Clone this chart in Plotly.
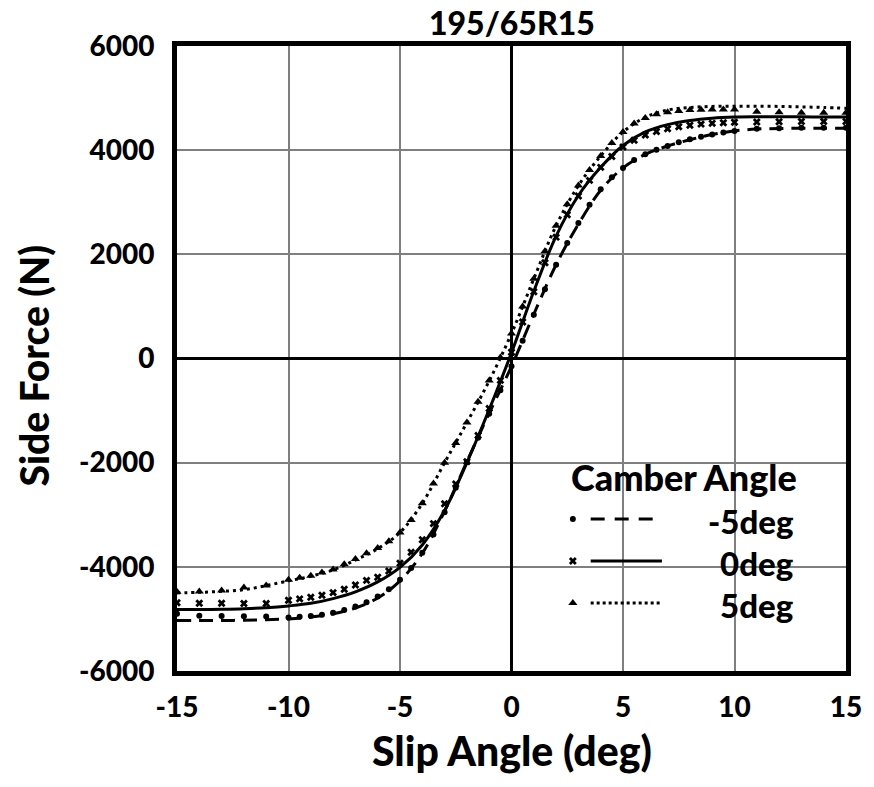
import plotly.graph_objects as go

# ---------------- data ----------------
slip_fit = [-15, -14, -13, -12, -11, -10, -9, -8, -7, -6, -5, -4, -3, -2, -1, 0,
            1, 2, 3, 4, 5, 6, 7, 8, 9, 10, 11, 12, 13, 14, 15]
fit_m5 = [-5030, -5030, -5030, -5025, -5015, -5000, -4965, -4900, -4790, -4600, -4270,
          -3740, -2930, -1980, -1050, -150, 850, 1800, 2580, 3230, 3660, 3920, 4080,
          4200, 4300, 4370, 4405, 4415, 4420, 4420, 4420]
fit_0 = [-4820, -4820, -4815, -4805, -4785, -4750, -4700, -4610, -4480, -4290, -4010,
         -3580, -2920, -2000, -980, 110, 1290, 2350, 3130, 3670, 4090, 4350, 4490,
         4570, 4615, 4635, 4640, 4640, 4640, 4635, 4635]
fit_p5 = [-4500, -4490, -4470, -4440, -4360, -4270, -4180, -4060, -3870, -3650, -3340,
          -2780, -2000, -1230, -430, 480, 1530, 2550, 3320, 3890, 4350, 4630, 4770,
          4820, 4840, 4845, 4845, 4840, 4830, 4820, 4805]

slip_meas = [-15, -14, -13, -12, -11,
             -10, -9.5, -9, -8.5, -8, -7.5, -7, -6.5, -6, -5.5, -5, -4.5, -4, -3.5, -3,
             -2.5, -2, -1.5, -1, -0.5, 0, 0.5, 1, 1.5, 2, 2.5, 3, 3.5, 4, 4.5, 5,
             5.5, 6, 6.5, 7, 7.5, 8, 8.5, 9, 9.5, 10,
             11, 12, 13, 14, 15]
meas_m5 = [-4900, -4940, -4945, -4950, -4955,
           -4975, -4960, -4945, -4920, -4880, -4830, -4760, -4680, -4570, -4430, -4250,
           -4020, -3730, -3380, -2950, -2480, -1990, -1520, -1060, -610, -150, 340, 840,
           1330, 1800, 2220, 2600, 2950, 3250, 3480, 3660, 3810, 3920, 4010, 4080, 4150,
           4210, 4260, 4300, 4340, 4370,
           4410, 4420, 4430, 4430, 4430]
meas_0 = [-4690, -4700, -4700, -4705, -4705,
          -4640, -4615, -4585, -4545, -4495, -4430, -4350, -4260, -4200, -4080, -3930,
          -3720, -3480, -3170, -2790, -2410, -1980, -1480, -960, -420, 120, 700, 1280,
          1840, 2330, 2760, 3120, 3420, 3670, 3880, 4060, 4190, 4290, 4360, 4410, 4450,
          4480, 4500, 4515, 4525, 4535,
          4540, 4545, 4550, 4550, 4550]
meas_p5 = [-4480, -4475, -4455, -4395, -4360,
           -4250, -4210, -4170, -4110, -4050, -3950, -3850, -3740, -3640, -3510, -3340,
           -3100, -2780, -2400, -2000, -1620, -1230, -830, -420, 20, 480, 1000, 1530,
           2060, 2550, 2960, 3320, 3620, 3890, 4140, 4350, 4510, 4620, 4690, 4730, 4750,
           4770, 4775, 4780, 4780, 4780,
           4740, 4730, 4720, 4720, 4720]

x_tickvals = [-15, -10, -5, 0, 5, 10, 15]
x_ticktext = ["-15", "-10", "-5", "0", "5", "10", "15"]
y_tickvals = [-6000, -4000, -2000, 0, 2000, 4000, 6000]
y_ticktext = ["-6000", "-4000", "-2000", "0", "2000", "4000", "6000"]

series_names = ["-5deg", "0deg", "5deg"]
legend_title = "Camber Angle"
chart_title = "195/65R15"
x_title = "Slip Angle (deg)"
y_title = "Side Force (N)"

# ---------------- layout geometry (pixels) ----------------
W, H = 874, 787
L, R, T, B = 177, 853, 46, 671
FONT = "Lato"
WEIGHT = 900


def px(x):
    return (x - L) / (R - L)


def py(y):
    return (B - y) / (B - T)


def f(size):
    return dict(family=FONT, size=size, color="black", weight=WEIGHT)


line_styles = [dict(dash="14px,8px"), dict(dash="solid"), dict(dash="3px,4px")]
marker_styles = [dict(symbol="circle", size=6), dict(symbol="x", size=7),
                 dict(symbol="triangle-up", size=8)]
fits = [fit_m5, fit_0, fit_p5]
meas = [meas_m5, meas_0, meas_p5]

fig = go.Figure()
for i in range(3):
    fig.add_trace(go.Scatter(
        x=slip_fit, y=fits[i], mode="lines",
        line=dict(color="black", width=3, shape="spline", **line_styles[i]),
        hoverinfo="skip", showlegend=False))
    fig.add_trace(go.Scatter(
        x=slip_meas, y=meas[i], mode="markers",
        marker=dict(color="black", line=dict(width=0), **marker_styles[i]),
        hoverinfo="skip", showlegend=False))

# legend glyph markers on a hidden overlay axis (paper-like 0..1 coordinates)
leg_rows = [519, 561, 603]
for i in range(3):
    fig.add_trace(go.Scatter(
        x=[px(577)], y=[py(leg_rows[i])], xaxis="x2", yaxis="y2", mode="markers",
        marker=dict(color="black", line=dict(width=0), **marker_styles[i]),
        hoverinfo="skip", showlegend=False))

axis_common = dict(
    showgrid=True, gridcolor="#7f7f7f", gridwidth=1.5,
    zeroline=True, zerolinecolor="black", zerolinewidth=3,
    showline=True, linecolor="black", linewidth=5, mirror=True,
    ticks="", tickfont=f(28), tickmode="array",
)

fig.update_layout(
    width=W, height=H,
    margin=dict(l=L, r=W - R, t=T, b=H - B),
    paper_bgcolor="white", plot_bgcolor="white",
    showlegend=False,
    xaxis=dict(range=[-15, 15], tickvals=x_tickvals, ticktext=x_ticktext,
               ticklabelstandoff=7, **axis_common),
    yaxis=dict(range=[-6000, 6000], tickvals=y_tickvals, ticktext=y_ticktext,
               ticklabelstandoff=12, **axis_common),
    xaxis2=dict(overlaying="x", range=[0, 1], visible=False, fixedrange=True),
    yaxis2=dict(overlaying="y", range=[0, 1], visible=False, fixedrange=True),
)

# legend box
fig.add_shape(type="rect", xref="paper", yref="paper",
              x0=px(552), x1=px(850), y0=py(624), y1=py(452),
              fillcolor="white", line=dict(width=0), layer="between")
leg_dash = ["14px,10px", "solid", "3px,3px"]
for i in range(3):
    fig.add_shape(type="line", xref="paper", yref="paper",
                  x0=px(595), x1=px(667), y0=py(leg_rows[i]), y1=py(leg_rows[i]),
                  line=dict(color="black", width=3, dash=leg_dash[i]), layer="above")

annos = []
annos.append(dict(text=legend_title, x=px(573), y=py(477), xanchor="left", yanchor="middle",
                  font=f(36)))
for i in range(3):
    annos.append(dict(text=series_names[i], x=px(802), y=py(leg_rows[i] + 2),
                      xanchor="right", yanchor="middle", font=f(33)))
annos.append(dict(text=chart_title, x=0.5, y=py(22), xanchor="center", yanchor="middle",
                  font=f(32)))
annos.append(dict(text=x_title, x=0.5, y=py(750), xanchor="center", yanchor="middle",
                  font=f(41)))
annos.append(dict(text=y_title, x=px(32), y=py(366), xanchor="center", yanchor="middle",
                  textangle=-90, font=f(39)))
for a in annos:
    a.update(xref="paper", yref="paper", showarrow=False)
fig.update_layout(annotations=annos)

fig.write_html("out.html")
